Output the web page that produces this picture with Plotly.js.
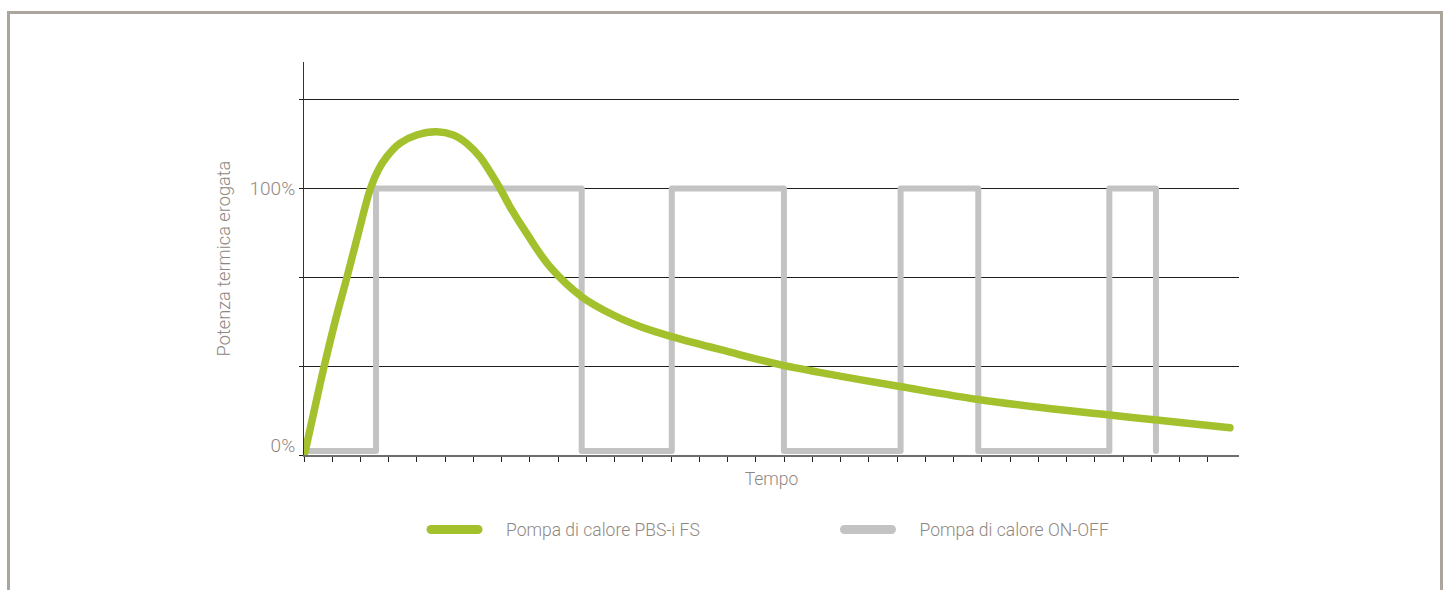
<!DOCTYPE html>
<html>
<head>
<meta charset="utf-8">
<script src="https://cdn.plot.ly/plotly-3.0.1.min.js"></script>
<style>
  html, body { margin: 0; padding: 0; background: #ffffff; overflow: hidden; }
  #chart { position: absolute; left: 0; top: 0; width: 1449px; height: 590px; }
  #frame { position: absolute; left: 7px; top: 11px; width: 1436px; height: 700px; box-sizing: border-box;
           border: 3px solid #aca59e; border-bottom: none; pointer-events: none; }
  .trace .js-line { stroke-linecap: round; stroke-linejoin: round; }
  .legendlines path.js-line { stroke-linecap: round !important; stroke-width: 9px !important;
                              stroke-dasharray: 47px 1000px !important; }
</style>
</head>
<body>
<div id="chart"></div>
<div id="frame"></div>
<script>
// ---- data (time in arbitrary units, power in % of nominal) ----
const seriesNames = ["Pompa di calore PBS-i FS", "Pompa di calore ON-OFF"];

const inverterTime  = [0.035, 0.389, 0.708, 1.097, 1.522, 1.922, 2.354, 2.630, 2.927, 3.398, 3.989, 4.697, 5.285, 5.759, 6.230, 6.584, 6.938, 7.292, 7.883, 8.708, 9.830, 10.949, 11.894, 13.016, 15.080, 16.850, 18.973, 21.097, 23.869, 26.230, 28.531, 30.184, 32.779];
const inverterPower = [1.1, 18.0, 33.0, 49.9, 66.7, 83.1, 100.0, 106.9, 111.8, 116.9, 120.0, 121.2, 120.0, 116.9, 111.8, 106.2, 100.0, 93.1, 83.1, 70.6, 59.4, 52.5, 48.2, 44.4, 38.6, 33.9, 29.6, 25.7, 20.8, 17.6, 15.0, 13.1, 10.2];

const onOffTime  = [0, 2.55, 9.83, 13.02, 16.99, 21.12, 23.87, 28.51, 30.16];
const onOffPower = [1.5, 100, 1.5, 100, 1.5, 100, 1.5, 100, 1.5];

const yTickVals  = [0, 33.33, 66.67, 100, 133.33];
const yTickText  = ["", "", "", "100%", ""];
const zeroLabelVal  = [3.7];
const zeroLabelText = ["0%"];
const xTickVals = [0,1,2,3,4,5,6,7,8,9,10,11,12,13,14,15,16,17,18,19,20,21,22,23,24,25,26,27,28,29,30,31,32];

const axisTitleX = "Tempo";
const axisTitleY = "Potenza termica erogata";

const GREEN = "#a3c12c";
const GREY  = "#c3c3c3";
const TEXT  = "#8f8882";
const FONT  = "Roboto, 'Open Sans', sans-serif";

const traces = [
  {
    x: onOffTime, y: onOffPower, name: seriesNames[1],
    type: "scatter", mode: "lines", xaxis: "x", yaxis: "y",
    line: { color: GREY, width: 6, shape: "hv" },
    legend: "legend2", hoverinfo: "skip"
  },
  {
    x: inverterTime, y: inverterPower, name: seriesNames[0],
    type: "scatter", mode: "lines", xaxis: "x", yaxis: "y2",
    line: { color: GREEN, width: 7.5, shape: "spline", smoothing: 1 },
    legend: "legend", hoverinfo: "skip"
  }
];

const legendCommon = {
  orientation: "h", xanchor: "left", yanchor: "middle", itemwidth: 70,
  font: { family: FONT, size: 17.5, color: TEXT, weight: 300 },
  bgcolor: "rgba(0,0,0,0)", itemclick: false, itemdoubleclick: false
};

const layout = {
  width: 1449, height: 590,
  margin: { l: 304, r: 210, t: 62, b: 135, pad: 0 },
  paper_bgcolor: "rgba(0,0,0,0)", plot_bgcolor: "rgba(0,0,0,0)",
  font: { family: FONT, size: 17.5, color: TEXT, weight: 300 },
  showlegend: true,
  legend:  Object.assign({}, legendCommon, { x: 0.1305, y: -0.19 }),
  legend2: Object.assign({}, legendCommon, { x: 0.5727, y: -0.19 }),
  xaxis: {
    range: [0, 33.1], autorange: false, fixedrange: true,
    showgrid: false, zeroline: false,
    showline: true, linecolor: "#6e6e6e", linewidth: 1.5,
    tickmode: "array", tickvals: xTickVals, showticklabels: false,
    ticks: "outside", ticklen: 5, tickwidth: 1, tickcolor: "#222222",
    title: { text: axisTitleX, standoff: 12, font: { family: FONT, size: 17.5, color: TEXT, weight: 300 } },
    automargin: false
  },
  yaxis: {
    range: [0, 147.4], autorange: false, fixedrange: true,
    showgrid: true, gridcolor: "#1e1e1e", gridwidth: 1, zeroline: false,
    showline: true, linecolor: "#333333", linewidth: 1,
    tickmode: "array", tickvals: yTickVals, ticktext: yTickText,
    ticks: "outside", ticklen: 4, tickwidth: 1, tickcolor: "#1e1e1e",
    tickfont: { family: FONT, size: 19, color: TEXT, weight: 300 },
    title: { text: axisTitleY, standoff: 14, font: { family: FONT, size: 18.2, color: TEXT, weight: 300 } },
    automargin: false
  },
  yaxis2: {
    overlaying: "y", anchor: "x", side: "left",
    range: [0, 147.4], autorange: false, fixedrange: true,
    showgrid: false, zeroline: false, showline: false,
    tickmode: "array", tickvals: zeroLabelVal, ticktext: zeroLabelText,
    ticks: "outside", ticklen: 4, tickcolor: "rgba(0,0,0,0)",
    tickfont: { family: FONT, size: 19, color: TEXT, weight: 300 },
    automargin: false
  }
};

Plotly.newPlot("chart", traces, layout, { staticPlot: true, displayModeBar: false });
</script>
</body>
</html>
